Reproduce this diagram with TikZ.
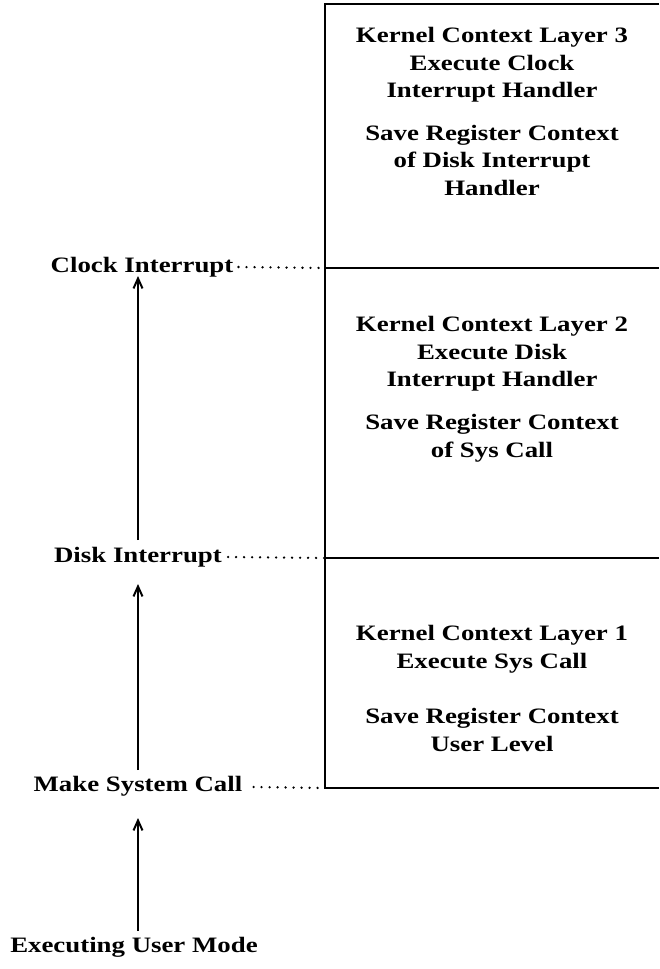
\documentclass[tikz,border=0pt]{standalone}
\usepackage{fontspec}
\setmainfont[FakeStretch=1.22]{Liberation Serif}
\usetikzlibrary{arrows.meta}

\begin{document}
\begin{tikzpicture}[
    x=1pt, y=-1pt,
    layer/.style={align=center, inner sep=0pt, font=\fontsize{22}{27.5}\selectfont\bfseries},
    event/.style={inner sep=2pt, font=\fontsize{22}{27}\selectfont\bfseries},
    frame/.style={line width=1.5pt},
    arrow/.style={-{Straight Barb[length=10pt,width=9pt,line width=2pt]}, line width=2pt},
    dots/.style={line width=2.6pt, line cap=round, dash pattern=on 0pt off 8pt}
]
    \useasboundingbox (0,0) rectangle (659,969);

    % stack of kernel context layers (open on the right)
    \coordinate (top)  at (325,4);
    \coordinate (e3)   at (325,268);
    \coordinate (e2)   at (325,558);
    \coordinate (e1)   at (325,788);
    \draw[frame] (659,4) -- (top) -- (e1) -- (659,788);
    \draw[frame] (e3) -- (659,268);
    \draw[frame] (e2) -- (659,558);

    \node[layer] (l3a) at (492,65)  {Kernel Context Layer 3\\Execute Clock\\Interrupt Handler};
    \node[layer] (l3b) at (492,160) {Save Register Context\\of Disk Interrupt\\Handler};
    \node[layer] (l2a) at (492,354) {Kernel Context Layer 2\\Execute Disk\\Interrupt Handler};
    \node[layer] (l2b) at (492,438) {Save Register Context\\of Sys Call};
    \node[layer] (l1a) at (492,649) {Kernel Context Layer 1\\Execute Sys Call};
    \node[layer] (l1b) at (492,730) {Save Register Context\\User Level};

    % events on the left
    \node[event] (clock) at (142,267) {Clock Interrupt};
    \node[event] (disk)  at (138,557) {Disk Interrupt};
    \node[event] (sys)   at (138,786) {Make System Call};
    \node[event] (user)  at (134,947) {Executing User Mode};

    \draw[arrow] (138,931) -- (138,818);
    \draw[arrow] (138,770) -- (138,584);
    \draw[arrow] (138,540) -- (138,276);

    \draw[dots] ([xshift=3pt]clock.east |- 0,267) -- (e3);
    \draw[dots] ([xshift=4pt]disk.east |- 0,557)  -- (e2);
    \draw[dots] ([xshift=9pt]sys.east |- 0,787)   -- (e1);
\end{tikzpicture}
\end{document}
